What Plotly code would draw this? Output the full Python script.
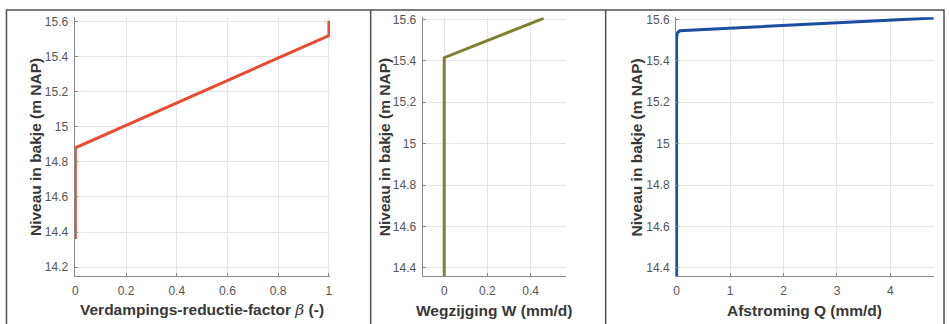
import plotly.graph_objects as go

# ---- data ----
beta_x = [0, 0, 1, 1]
beta_y = [14.36, 14.88, 15.52, 15.605]

w_x = [0, 0, 0.46]
w_y = [14.36, 15.415, 15.605]

q_x = [0, 0, 0.015, 0.06, 4.81]
q_y = [14.36, 15.51, 15.535, 15.545, 15.607]

y_title = "Niveau in bakje (m NAP)"
x_titles = ["<b>Verdampings-reductie-factor </b><span style=\"font-family:'DejaVu Serif', 'Liberation Serif', serif\"><i>β</i></span><b> (-)</b>",
            "<b>Wegzijging W (mm/d)</b>", "<b>Afstroming Q (mm/d)</b>"]

W, H = 949, 324
def px(x):
    return x / W
def py(y):
    return 1 - y / H

fig = go.Figure()
fig.add_trace(go.Scatter(x=beta_x, y=beta_y, mode="lines", line=dict(color="#EA4A2F", width=3), xaxis="x", yaxis="y", showlegend=False))
fig.add_trace(go.Scatter(x=w_x, y=w_y, mode="lines", line=dict(color="#7F7F30", width=3), xaxis="x2", yaxis="y2", showlegend=False))
fig.add_trace(go.Scatter(x=q_x, y=q_y, mode="lines", line=dict(color="#1A4EA0", width=3), xaxis="x3", yaxis="y3", showlegend=False))

font_family = "Liberation Sans, Arial, sans-serif"
tickfont = dict(family=font_family, size=12, color="#555555")
common = dict(showgrid=True, gridcolor="#E6E6E6", gridwidth=1, zeroline=False,
              showline=True, linecolor="#888888", linewidth=1, ticks="inside", ticklen=3,
              tickcolor="#888888", tickfont=tickfont, fixedrange=True)
xcommon = dict(common, ticklabelstandoff=3)
ycommon = dict(common, ticklabelstandoff=3)

ybot = py(275.5)
ytop = py(12.5)
doms = [(px(72), px(329)), (px(422.3), px(566.7)), (px(677.3), px(936.7))]

layout = dict(
    width=W, height=H, margin=dict(l=0, r=0, t=0, b=0),
    paper_bgcolor="white", plot_bgcolor="white",
    font=dict(family=font_family),
    xaxis=dict(domain=doms[0], range=[-0.003, 1.004], tick0=0, dtick=0.2, anchor="y", **xcommon),
    yaxis=dict(domain=[ybot, ytop], range=[14.148, 15.624], tick0=14.2, dtick=0.2, anchor="x", **ycommon),
    xaxis2=dict(domain=doms[1], range=[-0.1, 0.564], tick0=0, dtick=0.2, anchor="y2", **xcommon),
    yaxis2=dict(domain=[ybot, ytop], range=[14.36, 15.61], tick0=14.4, dtick=0.2, anchor="x2", **ycommon),
    xaxis3=dict(domain=doms[2], range=[-0.01, 4.81], tick0=0, dtick=1, anchor="y3", **xcommon),
    yaxis3=dict(domain=[ybot, ytop], range=[14.36, 15.61], tick0=14.4, dtick=0.2, anchor="x3", **ycommon),
)
fig.update_layout(**layout)

titlefont = dict(family=font_family, size=15.5, color="#383838")
annotations = []
ycenters_x = [32, 383.3, 637.3]
for i in range(3):
    cx = (doms[i][0] + doms[i][1]) / 2
    annotations.append(dict(x=cx, y=py(310), xref="paper", yref="paper", text=x_titles[i],
                            showarrow=False, font=titlefont, xanchor="center", yanchor="middle"))
    annotations.append(dict(x=px(ycenters_x[i]), y=py(144.5), xref="paper", yref="paper", text="<b>%s</b>" % y_title,
                            showarrow=False, font=titlefont, textangle=-90, xanchor="center", yanchor="middle"))
fig.update_layout(annotations=annotations)

border = dict(color="#505050", width=1.5)
shapes = [
    dict(type="rect", xref="paper", yref="paper", x0=px(3.5), x1=px(947), y0=-0.05, y1=py(5), line=border),
    dict(type="line", xref="paper", yref="paper", x0=px(370), x1=px(370), y0=-0.05, y1=py(5), line=border),
    dict(type="line", xref="paper", yref="paper", x0=px(606.5), x1=px(606.5), y0=-0.05, y1=py(5), line=border),
]
fig.update_layout(shapes=shapes)

fig.write_html("out.html")
